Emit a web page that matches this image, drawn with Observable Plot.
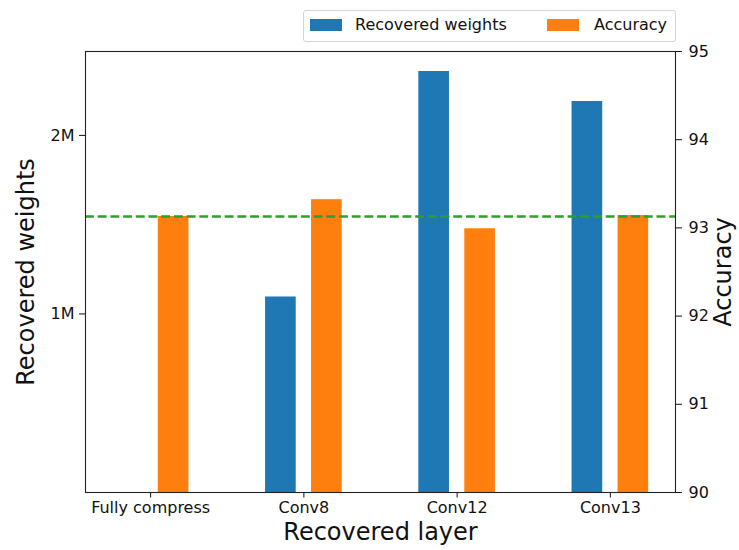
<!DOCTYPE html>
<html>
<head>
<meta charset="utf-8">
<script src="https://cdn.jsdelivr.net/npm/d3@7"></script>
<script src="https://cdn.jsdelivr.net/npm/@observablehq/plot@0.6"></script>
<style>
  body { margin: 0; background: #fff; font-family: "DejaVu Sans", sans-serif; }
  #wrap { position: relative; width: 739px; height: 550px; }
  #legend {
    position: absolute; left: 303px; top: 10px; width: 371px; height: 30px;
    border: 1px solid #d4d4d4; border-radius: 3px; background: rgba(255,255,255,0.85);
    font-size: 16px; color: #111;
  }
  .sw { position: absolute; top: 8px; width: 32px; height: 12px; }
  .lb { position: absolute; top: 4px; line-height: 20px; white-space: nowrap; }
</style>
</head>
<body>
<div id="wrap"></div>
<script>
// Per-layer recovery results
const layers = ["Fully compress", "Conv8", "Conv12", "Conv13"];
const recoveredWeights = [0, 1.095e6, 2.358e6, 2.19e6];
const accuracy = [93.13, 93.32, 92.99, 93.14];
const baselineAccuracy = 93.13;

// Axis ticks
const weightTicks = [1e6, 2e6];
const accuracyTicks = [90, 91, 92, 93, 94, 95];

// Legend entries
const seriesNames = ["Recovered weights", "Accuracy"];
const seriesColors = ["#1f77b4", "#ff7f0e"];

// The left axis (weights) is the plotting scale; accuracy is mapped onto it
const weightTop = 2.47e6;
const accLo = 90, accHi = 95;
const accToY = a => (a - accLo) / (accHi - accLo) * weightTop;
const yToAcc = y => accLo + y / weightTop * (accHi - accLo);

const rows = layers.map((name, i) => ({
  i, name, weights: recoveredWeights[i], accuracy: accuracy[i]
}));

const chart = Plot.plot({
  width: 739,
  height: 550,
  marginLeft: 85,
  marginRight: 64,
  marginTop: 51,
  marginBottom: 58,
  style: { fontFamily: "DejaVu Sans, sans-serif", fontSize: "16px", color: "#111", background: "#fff" },
  x: { type: "linear", domain: [-0.425, 3.425], axis: null },
  y: { domain: [0, weightTop], axis: null },
  marks: [
    Plot.rect(rows, {
      x1: d => d.i - 0.25, x2: d => d.i - 0.05,
      y1: 0, y2: "weights", fill: seriesColors[0]
    }),
    Plot.rect(rows, {
      x1: d => d.i + 0.05, x2: d => d.i + 0.25,
      y1: 0, y2: d => accToY(d.accuracy), fill: seriesColors[1]
    }),
    Plot.ruleY([baselineAccuracy], {
      y: accToY, stroke: "#2ca02c", strokeWidth: 2.4, strokeDasharray: "8.9,3.8"
    }),
    Plot.axisX({
      ticks: layers.map((_, i) => i), tickFormat: i => layers[i],
      tickSize: 5.5, tickPadding: 4, fontSize: 16, label: null
    }),
    Plot.axisY({
      anchor: "left", ticks: weightTicks, tickFormat: d => d / 1e6 + "M",
      tickSize: 6, tickPadding: 5, fontSize: 16, label: null
    }),
    Plot.axisY({
      anchor: "right", ticks: accuracyTicks.map(accToY),
      tickFormat: y => String(Math.round(yToAcc(y))),
      tickSize: 6, tickPadding: 7, fontSize: 16, label: null
    }),
    Plot.frame({ stroke: "#222", strokeWidth: 1.1 }),
    Plot.text(["Recovered layer"], {
      frameAnchor: "bottom", textAnchor: "middle", lineAnchor: "middle",
      dy: 40, fontSize: 24, fill: "#111"
    }),
    Plot.text(["Recovered weights"], {
      frameAnchor: "left", textAnchor: "middle", lineAnchor: "middle",
      dx: -59, rotate: -90, fontSize: 24, fill: "#111"
    }),
    Plot.text(["Accuracy"], {
      frameAnchor: "right", textAnchor: "middle", lineAnchor: "middle",
      dx: 48, rotate: -90, fontSize: 24, fill: "#111"
    })
  ]
});

const wrap = document.getElementById("wrap");
wrap.appendChild(chart);

// Legend box above the plot, right-aligned with the frame
const legend = document.createElement("div");
legend.id = "legend";
const swatchX = [6, 243];
const labelX = [51, 290];
seriesNames.forEach((name, k) => {
  const sw = document.createElement("div");
  sw.className = "sw";
  sw.style.left = swatchX[k] + "px";
  sw.style.background = seriesColors[k];
  const lb = document.createElement("div");
  lb.className = "lb";
  lb.style.left = labelX[k] + "px";
  lb.textContent = name;
  legend.appendChild(sw);
  legend.appendChild(lb);
});
wrap.appendChild(legend);
</script>
</body>
</html>
